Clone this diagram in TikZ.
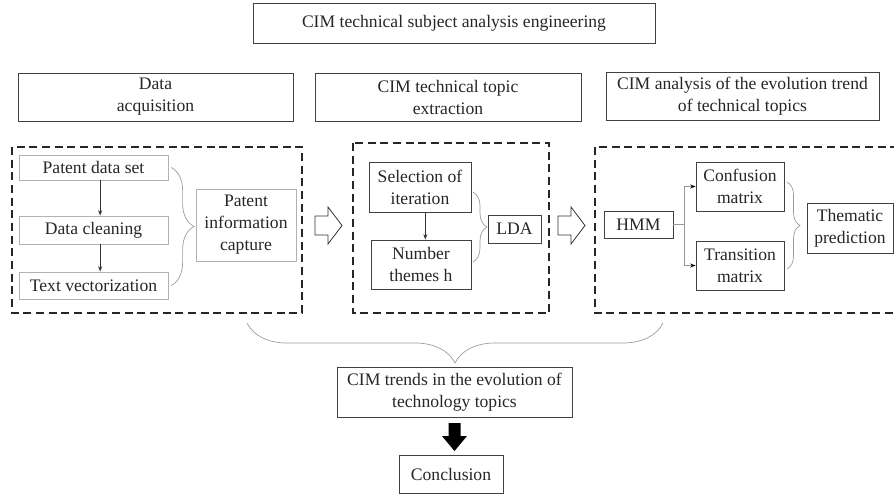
\documentclass[tikz,border=0pt]{standalone}
\usepackage{fontspec}
\setmainfont{Liberation Serif}
\usetikzlibrary{arrows.meta, decorations.pathreplacing}

\begin{document}
\begin{tikzpicture}[x=0.75pt, y=-0.75pt,
  every node/.style={font=\fontsize{13.2}{16.5}\selectfont, text=black!85, align=center, inner sep=0pt},
  box/.style 2 args={draw=black!75, line width=0.7pt, minimum width=#1*0.75pt, minimum height=#2*0.75pt},
  gbox/.style 2 args={draw=black!30, line width=0.7pt, minimum width=#1*0.75pt, minimum height=#2*0.75pt},
  group/.style={draw=black!85, line width=0.9pt, dash pattern=on 6pt off 3.5pt},
  brc/.style={draw=black!40, line width=0.5pt, decorate, decoration={brace, amplitude=#1*0.75pt}},
  link/.style={-{Stealth[length=4pt, width=3pt]}, draw=black!80, line width=0.5pt},
  glink/.style={-{Stealth[length=4pt, width=3pt, color=black]}, draw=black!40, line width=0.6pt},
  hollow/.style={draw=black!80, line width=0.6pt, fill=white},
]
\clip (0,0) rectangle (894,497);

% title and stage headers
\node[box={402}{40}] (title) at (454,23) {CIM technical subject analysis engineering};
\node[box={275}{48}] (hdA) at (155.5,97) {Data\\acquisition};
\node[box={266}{48}] (hdB) at (448,97) {CIM technical topic\\extraction};
\node[box={273}{48}] (hdC) at (742.5,96) {CIM analysis of the evolution trend\\of technical topics};

% dashed groups
\draw[group] (12,147) rectangle (302,313);
\draw[group] (353,143) rectangle (549,313);
\draw[group] (595,147) rectangle (910,313);

% data acquisition
\node[gbox={149}{25}] (pds) at (93.5,167.5) {Patent data set};
\node[gbox={149}{28}] (dcl) at (93.5,230) {Data cleaning};
\node[gbox={149}{27}] (txv) at (93.5,285.5) {Text vectorization};
\node[gbox={100}{72}] (pic) at (246,225) {Patent\\information\\capture};
\draw[link] ([xshift=5pt]pds.south) -- ([xshift=5pt]dcl.north);
\draw[link] ([xshift=5pt]dcl.south) -- ([xshift=5pt]txv.north);
\draw[brc=23] ([xshift=2pt]pds.east) -- ([xshift=2pt]txv.east);

% topic extraction
\node[box={102}{50}] (sel) at (420,187) {Selection of\\iteration};
\node[box={100}{49}] (num) at (421,264.5) {Number\\themes h};
\node[box={53}{28}] (lda) at (514.5,229) {LDA};
\draw[link] ([xshift=4pt]sel.south) -- ([xshift=4pt]sel.south |- num.north);
\draw[brc=14] (473,192) -- (473,262);

% evolution trend
\node[box={69}{27}] (hmm) at (638.5,224.5) {HMM};
\node[box={88}{49}] (cfm) at (740,186.5) {Confusion\\matrix};
\node[box={88}{49}] (trm) at (740,265.5) {Transition\\matrix};
\node[box={86}{50}] (thp) at (850,228) {Thematic\\prediction};
\draw[draw=black!40, line width=0.6pt] (hmm.east) -- ++(11,0) coordinate (fork);
\draw[glink] (fork) |- (cfm.west);
\draw[glink] (fork) |- (trm.west);
\draw[brc=13] (787,182) -- (787,269);

% hollow arrows between groups
\foreach \xa in {315,558}
  \draw[hollow] (\xa,216) -- (\xa+13,216) -- (\xa+13,207) -- (\xa+27,225.5)
    -- (\xa+13,244) -- (\xa+13,235) -- (\xa,235) -- cycle;

% result
\draw[brc=40] (663,323) -- (247,323);
\node[box={235}{50}] (trend) at (454.5,392) {CIM trends in the evolution of\\technology topics};
\node[box={104}{38}] (concl) at (451,474) {Conclusion};
\fill[black] (448.5,423) -- (460.5,423) -- (460.5,436) -- (467,436) -- (454.5,451)
  -- (442,436) -- (448.5,436) -- cycle;
\end{tikzpicture}
\end{document}
